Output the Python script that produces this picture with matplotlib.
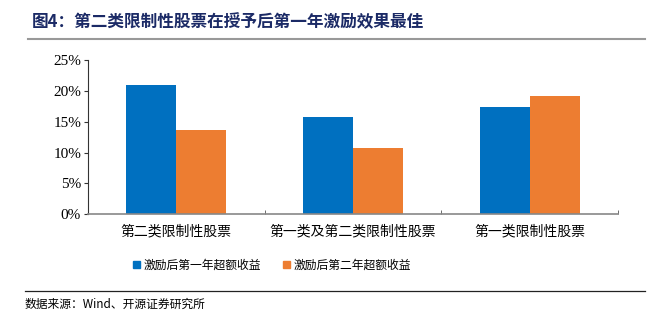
import numpy as np
import matplotlib
matplotlib.use("Agg")
import matplotlib.pyplot as plt
from matplotlib.lines import Line2D
from matplotlib.patches import Patch

plt.rcParams['font.family'] = ['Noto Sans CJK SC', 'DejaVu Sans']

categories = ['第二类限制性股票', '第一类及第二类限制性股票', '第一类限制性股票']
year1 = [21.0, 15.8, 17.4]
year2 = [13.6, 10.7, 19.2]
series_names = ['激励后第一年超额收益', '激励后第二年超额收益']
yticks = [0, 5, 10, 15, 20, 25]

blue = '#0070C0'
orange = '#ED7D31'

fig = plt.figure(figsize=(6.54, 3.25), dpi=100)
ax = fig.add_axes([88/654, 1-214.3/325, 530/654, 154.3/325])

x = np.arange(len(categories))
w = 0.283
ax.bar(x - w/2, year1, w, color=blue, label=series_names[0])
ax.bar(x + w/2, year2, w, color=orange, label=series_names[1])

ax.set_xlim(-0.5, 2.5)
ax.set_ylim(0, 25)
ax.set_yticks(yticks)
ax.set_yticklabels([f'{v}%' for v in yticks], family='Liberation Serif', fontsize=11)
ax.set_xticks(x)
ax.set_xticklabels(categories, fontsize=10)
ax.tick_params(axis='x', length=0, pad=7)
ax.set_xticks([-0.5, 0.5, 1.5, 2.5], minor=True)
ax.tick_params(axis='x', which='minor', direction='in', length=3, color='#555555')
ax.tick_params(axis='y', direction='out', length=3, color='#333333', pad=2)
for s in ['top', 'right']:
    ax.spines[s].set_visible(False)
ax.spines['left'].set_color('#333333')
ax.spines['bottom'].set_color('#888888')
ax.spines['bottom'].set_linewidth(1.2)

handles = [Patch(color=blue), Patch(color=orange)]
fig.legend(handles, series_names, loc='center', bbox_to_anchor=(272/654, 1-265/325),
           ncol=2, frameon=False, fontsize=8.5, handlelength=0.6, handleheight=0.6,
           handletextpad=0.3, columnspacing=1.8)

fig.text(32/654, 1-22/325, '图4：第二类限制性股票在授予后第一年激励效果最佳',
         fontsize=12, fontweight='bold', color='#1B2A66', va='center', ha='left')
fig.add_artist(Line2D([28/654, 645/654], [1-39/325, 1-39/325], color='#999999', lw=1.5))
fig.add_artist(Line2D([25/654, 645/654], [1-291/325, 1-291/325], color='#222222', lw=0.9))
fig.text(25/654, 1-304/325, '数据来源：Wind、开源证券研究所', fontsize=8.5, va='center', ha='left')

fig.savefig('out.png', dpi=100)
